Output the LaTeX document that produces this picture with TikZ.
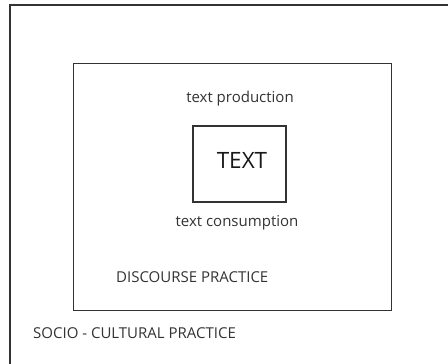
\documentclass[tikz,border=0pt]{standalone}
\usepackage{fontspec}
\setmainfont{Open Sans}
\begin{document}
\begin{tikzpicture}[x=1pt,y=-1pt,
  frame/.style={draw=black!80,line width=1.6pt},
  lbl/.style={font=\fontsize{15}{18}\selectfont,text=black!80,inner sep=0pt},
  big/.style={font=\fontsize{22.5}{26}\selectfont,text=black!90,inner sep=0pt}]
\useasboundingbox (0,0) rectangle (448,364);
\begin{scope}
\clip (0,0) rectangle (448,364);
\draw[frame,line width=2pt] (10,5) rectangle (470,390);
\end{scope}
\node[frame,line width=1.5pt,minimum width=318pt,minimum height=247pt,inner sep=0pt] (dp) at (232.5,187) {};
\node[frame,line width=1.5pt,minimum width=93pt,minimum height=76pt,inner sep=0pt] (tx) at (239.5,164) {};
\node[big] (txt) at (242,160) {TEXT};
\node[lbl] (prod) at (240,99) {text production};
\node[lbl] (cons) at (237,223) {text consumption};
\node[lbl,anchor=west] (disc) at (116,277) {DISCOURSE PRACTICE};
\node[lbl,anchor=west] (socio) at (33,333) {SOCIO - CULTURAL PRACTICE};
\end{tikzpicture}
\end{document}
